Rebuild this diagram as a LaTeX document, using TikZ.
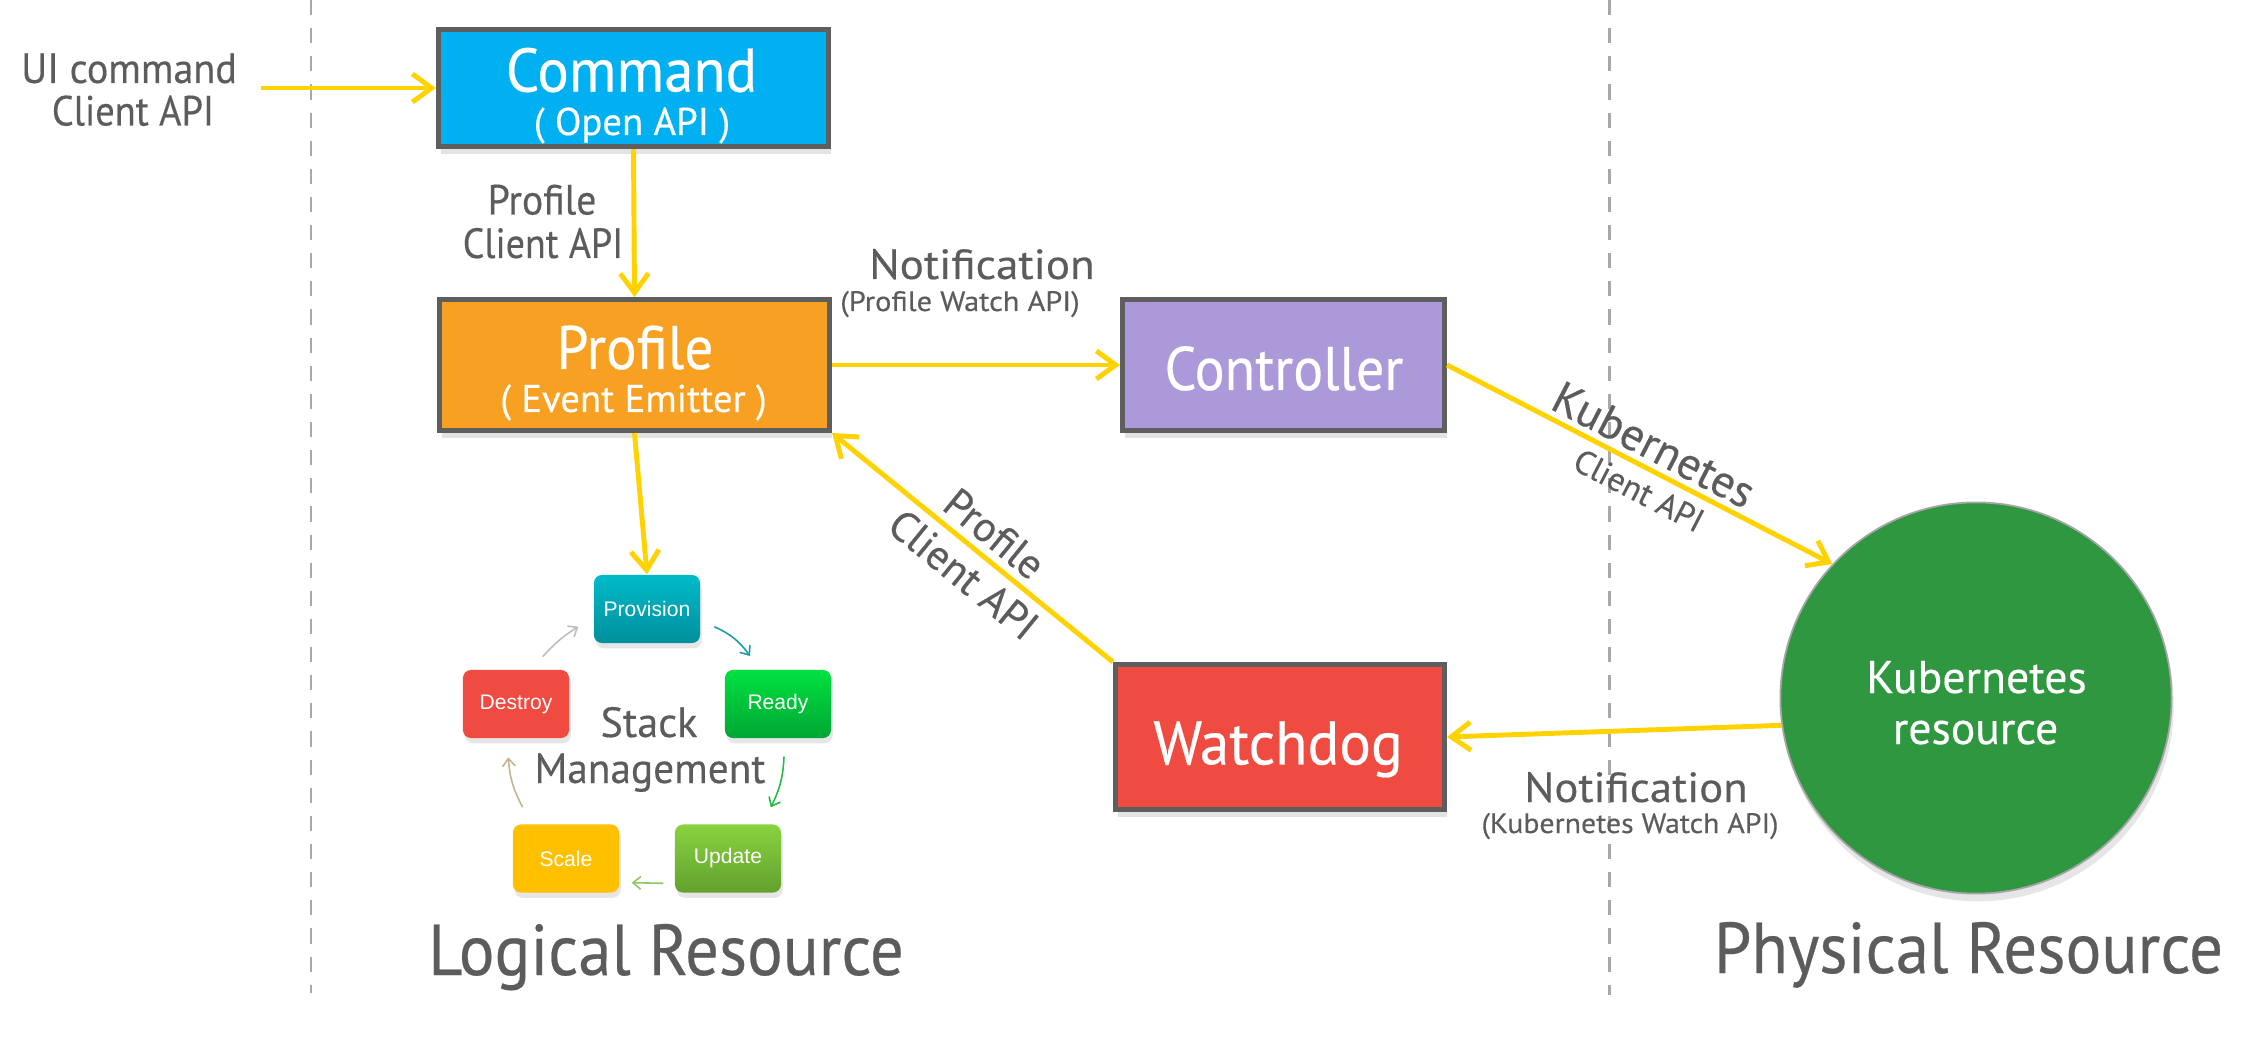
\documentclass[tikz,border=0pt]{standalone}
\usepackage{fontspec}
\usepackage{graphicx}
\setmainfont{PT Sans}[FakeBold=0.35]
\newfontfamily\arialf{Liberation Sans}
\usetikzlibrary{arrows.meta,shadows,calc}
\definecolor{cmdcyan}{HTML}{00B0F0}
\definecolor{proforange}{HTML}{F7A021}
\definecolor{ctrlpurple}{HTML}{AC99DA}
\definecolor{wdred}{HTML}{EF4B41}
\definecolor{k8sgreen}{HTML}{2E9740}
\definecolor{bordergray}{HTML}{5E5E5E}
\definecolor{txtgray}{HTML}{5C5C5C}
\definecolor{arrowyellow}{HTML}{FFD200}
\definecolor{dashgray}{HTML}{A8A8A8}
\definecolor{provtop}{HTML}{00BACA}
\definecolor{provbot}{HTML}{00909C}
\definecolor{readytop}{HTML}{00E141}
\definecolor{readybot}{HTML}{00A633}
\definecolor{updtop}{HTML}{89D23F}
\definecolor{updbot}{HTML}{62A12E}
\definecolor{scaleyel}{HTML}{FFC000}
\definecolor{arrgray}{HTML}{BDBDBD}
\definecolor{arrteal}{HTML}{1A9CAA}
\definecolor{arrgreen}{HTML}{22BB44}
\definecolor{arrlgreen}{HTML}{8CC860}
\definecolor{arrtan}{HTML}{C2B48C}
\newcommand\fTitle{\fontsize{17.5}{18}\selectfont}
\newcommand\fSub{\fontsize{11}{12}\selectfont}
\newcommand\fLab{\fontsize{12}{13}\selectfont}
\newcommand\fSmall{\fontsize{8}{9}\selectfont}
\newcommand\fBig{\fontsize{20.5}{22}\selectfont}
\newcommand\fCirc{\fontsize{13}{14}\selectfont}
\newcommand\fRsmall{\fontsize{9.5}{10}\selectfont}
\newcommand\fStack{\arialf\fontsize{6}{7}\selectfont}
\newcommand\hsq[2]{\scalebox{#1}[1]{#2}}
\begin{document}
\begin{tikzpicture}[x=0.01cm, y=-0.01cm,
  bigbox/.style={draw=bordergray, line width=1.42pt, inner sep=0pt,
    drop shadow={shadow xshift=0.6pt, shadow yshift=-2.2pt, opacity=0.22}},
  stackbox/.style={rounded corners=2.3pt, minimum width=1.06cm, minimum height=0.68cm,
    inner sep=0pt, text=white, font=\fStack,
    drop shadow={shadow xshift=0.5pt, shadow yshift=-1.5pt, opacity=0.2}},
  titletxt/.style={anchor=base, text=white, font=\fTitle, inner sep=0pt},
  subtxt/.style={anchor=base, text=white, font=\fSub, inner sep=0pt},
  labtxt/.style={anchor=base, text=txtgray, font=\fLab, inner sep=0pt},
  smalltxt/.style={anchor=base, text=txtgray, font=\fSmall, inner sep=0pt},
  bigtxt/.style={anchor=base, text=txtgray, font=\fBig, inner sep=0pt},
  yarrow/.style={draw=arrowyellow, line width=1.4pt,
    -{Straight Barb[length=5.5pt, width=8pt]}},
  sarrow/.style={line width=0.45pt, -{Straight Barb[length=2.2pt, width=3.6pt]}},
  divider/.style={draw=dashgray, line width=0.85pt, dash pattern=on 4.3pt off 3.7pt}
]
\useasboundingbox (0,0) rectangle (2260,1064);

% dividers
\draw[divider] (311,0) -- (311,993);
\draw[divider] (1609,0) -- (1609,995);

% main boxes
\node[bigbox, fill=cmdcyan, minimum width=3.9cm, minimum height=1.17cm] (command) at (633.5,88) {};
\node[titletxt] (commandt) at (631.5,91.6) {\hsq{0.955}{Command}};
\node[subtxt] (commands) at (632,135) {( Open API )};

\node[bigbox, fill=proforange, minimum width=3.9cm, minimum height=1.31cm] (profile) at (634.5,365) {};
\node[titletxt] (profilet) at (635,369) {\hsq{0.93}{Profile}};
\node[subtxt] (profiles) at (633.5,412) {( Event Emitter )};

\node[bigbox, fill=ctrlpurple, minimum width=3.22cm, minimum height=1.31cm] (ctrl) at (1283.5,365) {};
\node[titletxt] (ctrlt) at (1284,390) {\hsq{0.91}{Controller}};

\node[bigbox, fill=wdred, minimum width=3.29cm, minimum height=1.45cm] (wd) at (1280,737) {};
\node[titletxt] (wdt) at (1278,764.4) {\hsq{0.96}{Watchdog}};

\node[circle, fill=k8sgreen, draw=gray!70, line width=0.5pt, minimum size=3.91cm, inner sep=0pt,
  drop shadow={shadow xshift=0.6pt, shadow yshift=-2.2pt, opacity=0.2}] (k8s) at (1976,698) {};
\node[anchor=base, text=white, font=\fCirc, inner sep=0pt] (k8st1) at (1976.5,693) {Kubernetes};
\node[anchor=base, text=white, font=\fCirc, inner sep=0pt] (k8st2) at (1975.5,744) {resource};

% labels
\node[labtxt] (ui1) at (129,83) {\hsq{0.95}{UI command}};
\node[labtxt] (ui2) at (133,125.5) {\hsq{0.91}{Client API}};
\coordinate (uistart) at (261,88);

\node[labtxt] (pc1) at (542,214.5) {\hsq{0.94}{Profile}};
\node[labtxt] (pc2) at (543,258) {\hsq{0.9}{Client API}};

\node[labtxt] (nt1) at (982,279) {\hsq{1.07}{Notification}};
\node[smalltxt] (nt2) at (960,311) {\hsq{1.08}{(Profile Watch API)}};

\node[labtxt] (nb1) at (1636,802) {\hsq{1.06}{Notification}};
\node[smalltxt] (nb2) at (1630,833) {\hsq{1.06}{(Kubernetes Watch API)}};

\node[bigtxt] (logical) at (666,975) {\hsq{0.925}{Logical Resource}};
\node[bigtxt] (physical) at (1968.5,973) {\hsq{0.93}{Physical Resource}};

% stack management
\node[stackbox, top color=provtop, bottom color=provbot] (prov) at (647,609) {Provision};
\node[stackbox, fill=wdred] (destroy) at (516,704) {Destroy};
\node[stackbox, top color=readytop, bottom color=readybot] (ready) at (778,704) {Ready};
\node[stackbox, fill=scaleyel] (scale) at (566,858.5) {Scale};
\node[stackbox, top color=updtop, bottom color=updbot] (update) at (728,858.5) {Update};
\node[labtxt] (st1) at (649,737) {Stack};
\node[labtxt] (st2) at (650,783) {\hsq{0.98}{Management}};

\coordinate (a1s) at (542.7,656.7); \coordinate (a1e) at (578.3,626.7);
\coordinate (a2s) at (714.3,626.7); \coordinate (a2e) at (750,656);
\coordinate (a3s) at (784,756.7);   \coordinate (a3e) at (770.7,807.3);
\coordinate (a4s) at (663.3,883.3); \coordinate (a4e) at (631.7,882.7);
\coordinate (a5s) at (522.7,807.3); \coordinate (a5e) at (508.3,757.3);
\draw[sarrow, arrgray] (a1s) to[bend left=8] (a1e);
\draw[sarrow, arrteal] (a2s) to[bend left=15] (a2e);
\draw[sarrow, arrgreen] (a3s) to[bend left=12] (a3e);
\draw[sarrow, arrlgreen] (a4s) to (a4e);
\draw[sarrow, arrtan] (a5s) to[bend left=12] (a5e);

% yellow connectors
\draw[yarrow] (uistart) -- (command.west);
\draw[yarrow] (command.south) -- (profile.north);
\draw[yarrow] (profile.east) -- (ctrl.west);
\draw[yarrow] (profile.south) -- (prov.north);
\draw[yarrow] (ctrl.east) -- (k8s.137)
  node[sloped, above, pos=0.508, inner sep=1.5pt, text=txtgray, font=\fCirc] (kl1) {Kubernetes}
  node[sloped, below, pos=0.526, inner sep=2.5pt, text=txtgray, font=\fRsmall] (kl2) {Client API};
\draw[yarrow] (k8s.188.5) -- (wd.east);
\draw[yarrow] (wd.north west) -- (profile.south east)
  node[sloped, above, pos=0.477, inner sep=2pt, text=txtgray, font=\fLab] (wl1) {Profile}
  node[sloped, below, pos=0.472, inner sep=2.5pt, text=txtgray, font=\fLab] (wl2) {Client API};
\end{tikzpicture}
\end{document}
